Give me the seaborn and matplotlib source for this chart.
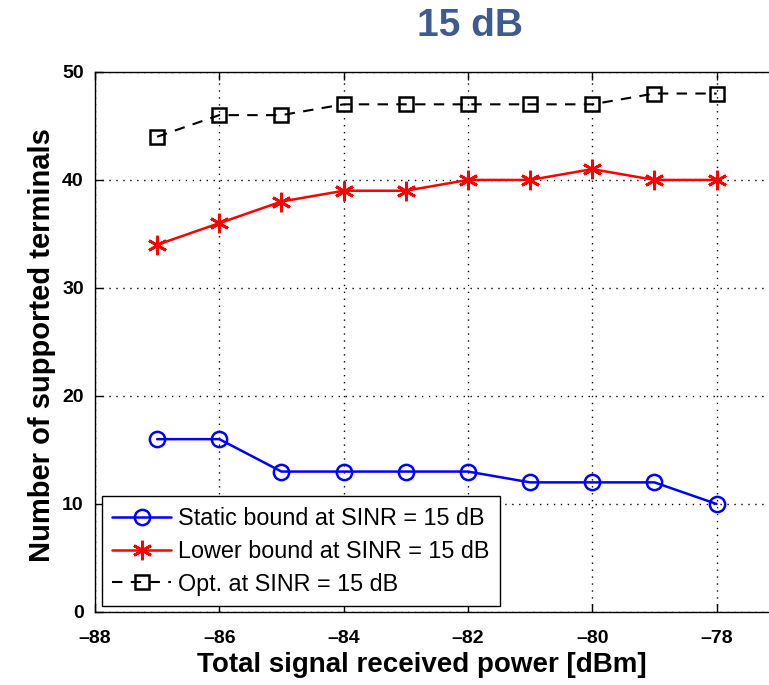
import matplotlib
matplotlib.use("Agg")
import matplotlib.pyplot as plt
import seaborn as sns
import pandas as pd

power = [-87, -86, -85, -84, -83, -82, -81, -80, -79, -78]
static_bound = [16, 16, 13, 13, 13, 13, 12, 12, 12, 10]
lower_bound = [34, 36, 38, 39, 39, 40, 40, 41, 40, 40]
opt = [44, 46, 46, 47, 47, 47, 47, 47, 48, 48]
labels = ["Static bound at SINR = 15 dB", "Lower bound at SINR = 15 dB", "Opt. at SINR = 15 dB"]
xticks = [-88, -86, -84, -82, -80, -78]
yticks = [0, 10, 20, 30, 40, 50]

sns.set_theme(style="white")
plt.rcParams['font.family'] = ['Liberation Sans', 'DejaVu Sans']
plt.rcParams['text.color'] = 'black'
plt.rcParams['axes.labelcolor'] = 'black'

fig = plt.figure(figsize=(7.69, 6.85), dpi=100)
ax = fig.add_axes([0.1235, 0.1066, 0.970, 0.7884])

df = pd.DataFrame({"x": power, "s": static_bound, "l": lower_bound, "o": opt})
sns.lineplot(data=df, x="x", y="s", ax=ax, color="blue", lw=1.8, marker="o", markersize=11,
             markerfacecolor="none", markeredgecolor="blue", markeredgewidth=1.8, label=labels[0])
sns.lineplot(data=df, x="x", y="l", ax=ax, color="red", lw=1.8, marker=(6, 2, 0), markersize=14,
             markeredgecolor="red", markeredgewidth=2.0, label=labels[1])
sns.lineplot(data=df, x="x", y="o", ax=ax, color="black", lw=1.5, marker="s", markersize=10,
             markerfacecolor="none", markeredgecolor="black", markeredgewidth=1.8,
             linestyle=(0, (5, 4)), label=labels[2])

ax.set_xlim(-88, -76)
ax.set_ylim(0, 50)
ax.set_xticks(xticks)
ax.set_yticks(yticks)
ax.set_xticklabels([str(t).replace('-', '\u2013') for t in xticks], fontweight="bold")
ax.set_yticklabels([str(t) for t in yticks], fontweight="bold")
ax.tick_params(direction="in", length=6, width=1, labelsize=14, colors="black", top=True, right=True,
               bottom=True, left=True)
ax.tick_params(axis="x", pad=13)
ax.tick_params(axis="y", pad=8)
ax.grid(True, color="black", linestyle=(0, (1, 4)), linewidth=1)
for s in ax.spines.values():
    s.set_color("black")
    s.set_linewidth(1)
ax.set_xlabel("Total signal received power [dBm]", fontsize=20, fontweight="bold", va="center")
ax.xaxis.set_label_coords(0.438, -0.098)
ax.set_ylabel("Number of supported terminals", fontsize=21, fontweight="bold", va="center")
ax.yaxis.set_label_coords(-0.071, 0.495)

leg = ax.legend(loc="lower left", bbox_to_anchor=(0.0094, 0.011), borderaxespad=0, fontsize=16.8,
                frameon=True, fancybox=False, edgecolor="black", framealpha=1, handlelength=2.5,
                borderpad=0.45, labelspacing=0.42, handletextpad=0.3)
leg.get_frame().set_linewidth(1)
for t in leg.get_texts():
    t.set_color("black")

fig.text(0.611, 0.962, "15 dB", ha="center", va="center", fontsize=28, fontweight="bold", color="#3E5A8E")

fig.savefig("out.png", dpi=100)
